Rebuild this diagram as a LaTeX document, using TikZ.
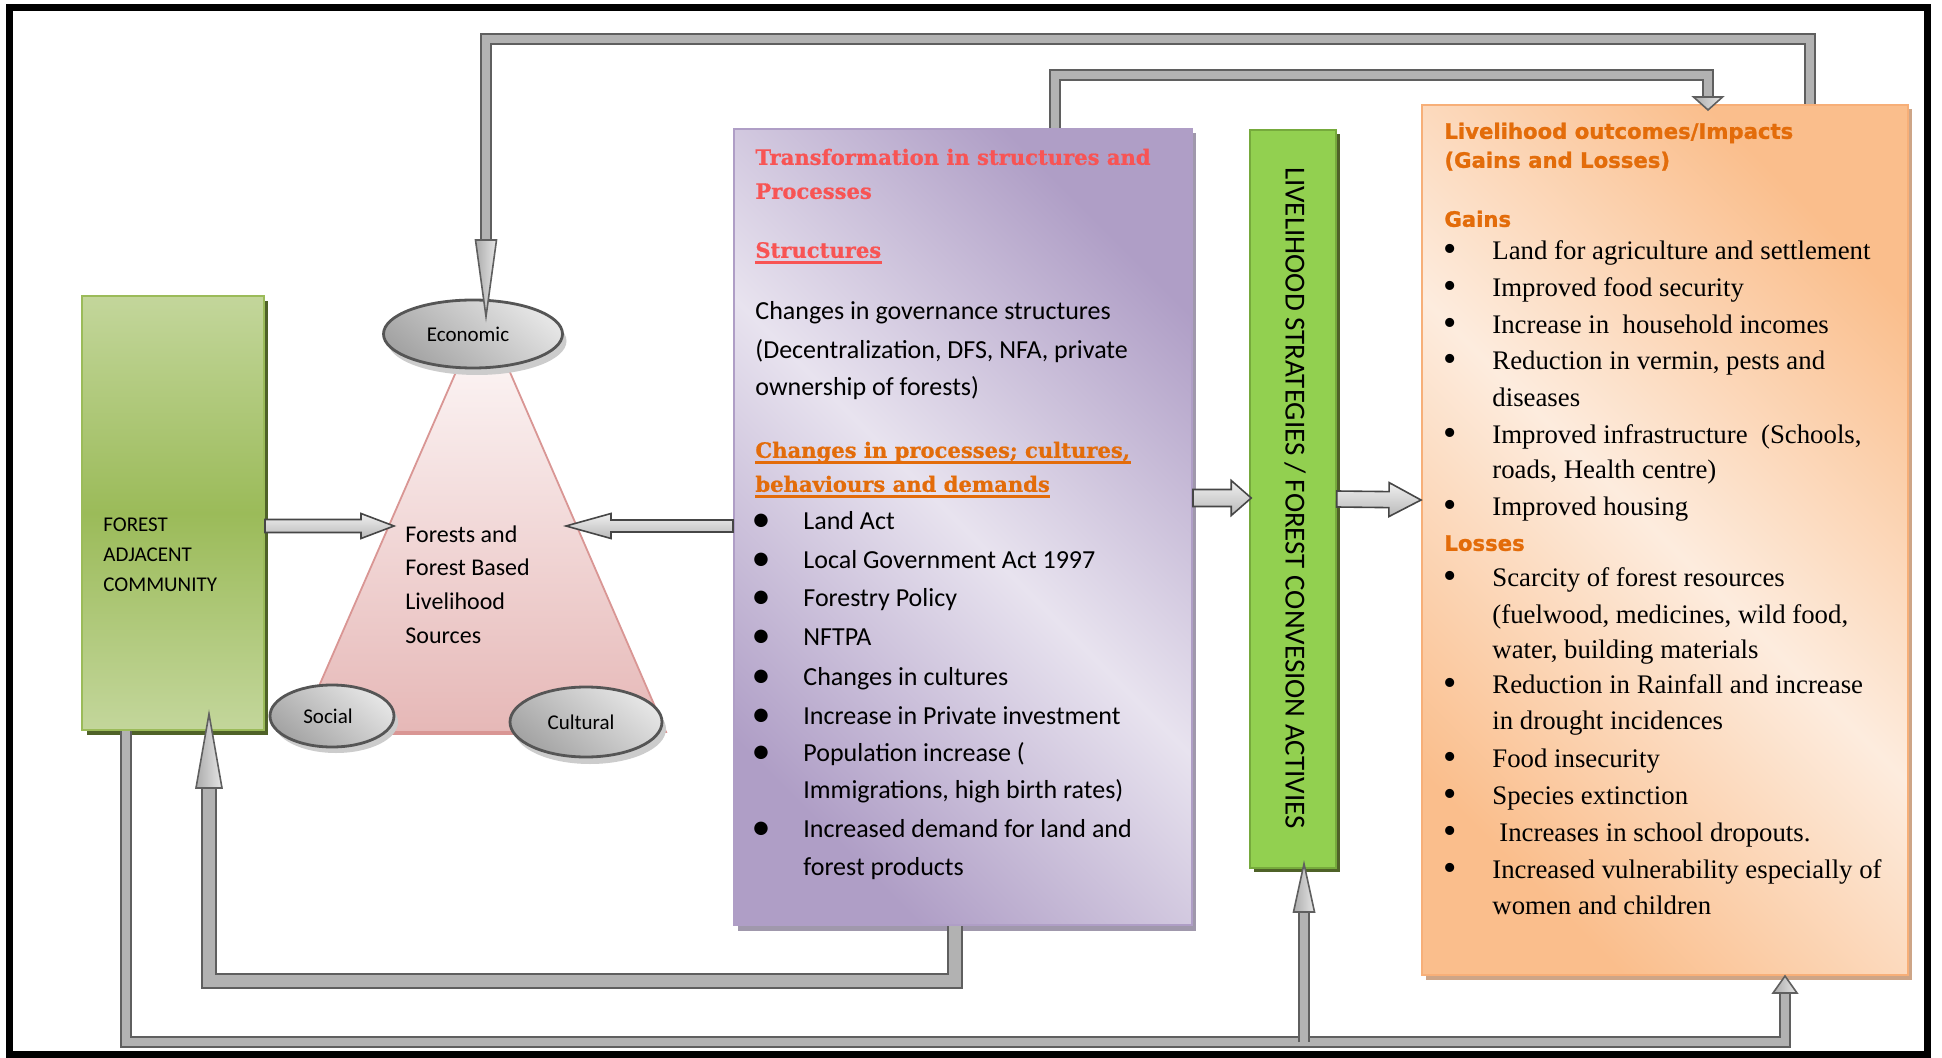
\documentclass[tikz,border=0pt]{standalone}
\usepackage{fontspec}
\setmainfont{Carlito}
\newfontfamily\TimesF{Liberation Serif}
\newfontfamily\HeadSans{DejaVu Sans}[BoldFont={DejaVu Sans Bold},BoldFeatures={FakeBold=1.2}]
\newfontfamily\BookF{DejaVu Serif}[BoldFont={DejaVu Serif Bold},BoldFeatures={FakeBold=0.8}]
\usetikzlibrary{calc,shapes.geometric}
\definecolor{titlered}{RGB}{248,84,84}
\definecolor{hdorange}{RGB}{227,108,10}
\definecolor{grnlight}{RGB}{195,214,155}
\definecolor{grnmid}{RGB}{155,187,89}
\definecolor{grndark}{RGB}{79,98,40}
\definecolor{grnbright}{RGB}{146,208,80}
\definecolor{grnedge}{RGB}{118,170,60}
\definecolor{purlight}{RGB}{232,227,239}
\definecolor{purdark}{RGB}{175,158,198}
\definecolor{purshadow}{RGB}{160,152,172}
\definecolor{orlight}{RGB}{253,236,222}
\definecolor{ordark}{RGB}{250,190,140}
\definecolor{oredge}{RGB}{247,175,120}
\definecolor{orshadow}{RGB}{205,165,135}
\definecolor{triedge}{RGB}{217,150,148}
\definecolor{tritop}{RGB}{254,251,251}
\definecolor{tribot}{RGB}{230,184,183}
\definecolor{pipeedge}{RGB}{95,95,95}
\definecolor{pipefill}{RGB}{178,178,178}
\definecolor{ellborder}{RGB}{85,85,85}

\newcommand\BlockArrow[5]{%
  \coordinate (ba-b) at ($(#2)!#5!(#1)$);
  \draw[blockarr] ($(#1)!#3!90:(#2)$) -- ($(ba-b)!#3!90:(#2)$) -- ($(ba-b)!#4!90:(#2)$) -- (#2)
     -- ($(ba-b)!#4!-90:(#2)$) -- ($(ba-b)!#3!-90:(#2)$) -- ($(#1)!#3!-90:(#2)$) -- cycle;}
\newcommand\PipeHead[3]{%
  \draw[headst] ($(#1)!#3!90:(#2)$) -- (#2) -- ($(#1)!#3!-90:(#2)$) -- cycle;}

\begin{document}
\begin{tikzpicture}[x=0.5pt,y=-0.5pt,
  txt/.style={inner sep=0pt,anchor=west,text height=0.68em,text depth=0pt},
  ptxt/.style={txt,font=\fontsize{13}{15}\selectfont},
  pbul/.style={inner sep=0pt,anchor=center,font=\fontsize{19}{20}\selectfont},
  phead/.style={txt,font=\BookF\bfseries\fontsize{10.55}{13}\selectfont},
  ohead/.style={txt,text=hdorange,font=\HeadSans\bfseries\fontsize{10.6}{13}\selectfont},
  otxt/.style={txt,font=\TimesF\fontsize{13.4}{15}\selectfont},
  obul/.style={inner sep=0pt,anchor=center,font=\TimesF\fontsize{19}{20}\selectfont},
  ltxt/.style={txt,font=\fontsize{10.5}{12}\selectfont},
  ttxt/.style={txt,font=\fontsize{12}{14}\selectfont},
  ellip/.style={ellipse,draw=ellborder,line width=1.4pt,top color=gray!20,bottom color=gray!72,
     shading angle=-40,inner sep=0pt,font=\fontsize{10.5}{12}\selectfont},
  ellsh/.style={ellipse,fill=gray!40,inner sep=0pt},
  blockarr/.style={draw=gray!55!black,line width=0.8pt,top color=gray!12,bottom color=gray!55},
  headst/.style={draw=pipeedge,line width=0.8pt,left color=gray!65,right color=gray!20},
  pipe/.style={draw=pipeedge,line width=1pt,double=pipefill,double distance=4pt,line join=miter},
  bigpipe/.style={draw=pipeedge,line width=1pt,double=pipefill,double distance=5.6pt,line join=miter}
]
\useasboundingbox (0,0) rectangle (1942,1058);
\fill[white] (0,0) rectangle (1942,1058);
\draw[line width=3.5pt] (9,8) rectangle (1927,1054);

% ---------- box shadows ----------
\fill[grndark] (87,301) rectangle (268,735);
\fill[purshadow] (738,133) rectangle (1196,931);
\fill[grndark] (1254,134) rectangle (1340,872);
\fill[orshadow] (1426,109) rectangle (1912,980);

% ---------- boxes ----------
\node[draw=grnmid,line width=1pt,top color=grnlight,bottom color=grnlight,middle color=grnmid,
      minimum width=91pt,minimum height=217pt,inner sep=0pt] (fac) at (173,513) {};
\node[draw=purdark,line width=1pt,top color=purdark,bottom color=purdark,middle color=purlight,
      shading angle=-45,minimum width=229pt,minimum height=398pt,inner sep=0pt] (pur) at (963,527) {};
\node[draw=grnedge,line width=0.8pt,fill=grnbright,
      minimum width=43pt,minimum height=369pt,inner sep=0pt] (lsbox) at (1293,499) {};
\node[draw=oredge,line width=1pt,top color=ordark,bottom color=ordark,middle color=orlight,
      shading angle=-45,minimum width=243pt,minimum height=435pt,inner sep=0pt] (orange) at (1665,540) {};

% ---------- triangle ----------
\path[draw=triedge,line width=0.9pt,top color=tritop,bottom color=tribot]
   (483,310) -- (666,732) -- (299,732) -- cycle;
\draw[triedge,line width=1.6pt] (330,733) -- (640,733);
\coordinate (triL) at (394,526);
\coordinate (triR) at (566,526);

% ---------- ellipses ----------
\node[ellsh,minimum width=89.5pt,minimum height=34pt] (econsh) at (477,341) {};
\node[ellsh,minimum width=62pt,minimum height=31pt] (socsh) at (336,722) {};
\node[ellsh,minimum width=76pt,minimum height=35pt] (culsh) at (590,729) {};
\node[ellip,minimum width=89.5pt,minimum height=34pt] (econ) at (473,334) {Economic\kern5pt};
\node[ellip,minimum width=62pt,minimum height=31pt] (soc) at (332,716) {Social\kern4pt};
\node[ellip,minimum width=76pt,minimum height=35pt] (cul) at (586,722) {Cultural\kern5pt};

% ---------- texts: left ----------
\node[ltxt] (fa1) at (103,525) {FOREST};
\node[ltxt] (fa2) at (103,555) {ADJACENT};
\node[ltxt] (fa3) at (103,585) {COMMUNITY};

\node[ttxt] (ft1) at (405,536) {Forests and};
\node[ttxt] (ft2) at (405,569) {Forest Based};
\node[ttxt] (ft3) at (405,603) {Livelihood};
\node[ttxt] (ft4) at (405,637) {Sources};

% ---------- texts: purple ----------
\node[phead,text=titlered] (ph1) at (755,158) {Transformation in structures and};
\node[phead,text=titlered] (ph2) at (755,192) {Processes};
\node[phead,text=titlered] (ph3) at (755,251) {Structures};
\draw[titlered,line width=1.3pt] ($(ph3.base west)+(0,5)$) -- ($(ph3.base east)+(0,5)$);
\node[ptxt] (pb1) at (755,313) {Changes in governance structures};
\node[ptxt] (pb2) at (755,352) {(Decentralization, DFS, NFA, private};
\node[ptxt] (pb3) at (755,389) {ownership of forests)};
\node[phead,text=hdorange] (ph4) at (755,451) {Changes in processes; cultures,};
\node[phead,text=hdorange] (ph5) at (755,485) {behaviours and demands};
\draw[hdorange,line width=1.3pt] ($(ph4.base west)+(0,5)$) -- ($(ph4.base east)+(0,5)$);
\draw[hdorange,line width=1.3pt] ($(ph5.base west)+(0,5)$) -- ($(ph5.base east)+(0,5)$);

\node[pbul] (pu1) at (761,523) {\textbullet};
\node[pbul] (pu2) at (761,562) {\textbullet};
\node[pbul] (pu3) at (761,600) {\textbullet};
\node[pbul] (pu4) at (761,639) {\textbullet};
\node[pbul] (pu5) at (761,679) {\textbullet};
\node[pbul] (pu6) at (761,718) {\textbullet};
\node[pbul] (pu7) at (761,755) {\textbullet};
\node[pbul] (pu8) at (761,831) {\textbullet};
\node[ptxt] (pl1) at (803,523) {Land Act};
\node[ptxt] (pl2) at (803,562) {Local Government Act 1997};
\node[ptxt] (pl3) at (803,600) {Forestry Policy};
\node[ptxt] (pl4) at (803,639) {NFTPA};
\node[ptxt] (pl5) at (803,679) {Changes in cultures};
\node[ptxt] (pl6) at (803,718) {Increase in Private investment};
\node[ptxt] (pl7) at (803,755) {Population increase (};
\node[ptxt] (pl7b) at (803,792) {Immigrations, high birth rates)};
\node[ptxt] (pl8) at (803,831) {Increased demand for land and};
\node[ptxt] (pl8b) at (803,869) {forest products};

% ---------- vertical text ----------
\node[rotate=-90,inner sep=0pt,font=\fontsize{14.5}{16}\selectfont] (lstxt) at (1295,498)
  {LIVELIHOOD STRATEGIES / FOREST CONVESION ACTIVIES};

% ---------- texts: orange ----------
\node[ohead] (oh1) at (1444,132) {Livelihood outcomes/Impacts};
\node[ohead] (oh2) at (1444,161) {(Gains and Losses)};
\node[ohead] (oh3) at (1444,220) {Gains};
\node[ohead] (oh4) at (1444,544) {Losses};

\node[obul] (ou1) at (1450,253) {\textbullet};
\node[obul] (ou2) at (1450,290) {\textbullet};
\node[obul] (ou3) at (1450,327) {\textbullet};
\node[obul] (ou4) at (1450,363) {\textbullet};
\node[obul] (ou5) at (1450,437) {\textbullet};
\node[obul] (ou6) at (1450,509) {\textbullet};
\node[obul] (ou7) at (1450,580) {\textbullet};
\node[obul] (ou8) at (1450,687) {\textbullet};
\node[obul] (ou9) at (1450,761) {\textbullet};
\node[obul] (ou10) at (1450,798) {\textbullet};
\node[obul] (ou11) at (1450,835) {\textbullet};
\node[obul] (ou12) at (1450,872) {\textbullet};

\node[otxt] (ol1) at (1492,253) {Land for agriculture and settlement};
\node[otxt] (ol2) at (1492,290) {Improved food security};
\node[otxt] (ol3) at (1492,327) {Increase in\ \ household incomes};
\node[otxt] (ol4) at (1492,363) {Reduction in vermin, pests and};
\node[otxt] (ol4b) at (1492,400) {diseases};
\node[otxt] (ol5) at (1492,437) {Improved infrastructure\ \ (Schools,};
\node[otxt] (ol5b) at (1492,472) {roads, Health centre)};
\node[otxt] (ol6) at (1492,509) {Improved housing};
\node[otxt] (ol7) at (1492,580) {Scarcity of forest resources};
\node[otxt] (ol7b) at (1492,617) {(fuelwood, medicines, wild food,};
\node[otxt] (ol7c) at (1492,652) {water, building materials};
\node[otxt] (ol8) at (1492,687) {Reduction in Rainfall and increase};
\node[otxt] (ol8b) at (1492,723) {in drought incidences};
\node[otxt] (ol9) at (1492,761) {Food insecurity};
\node[otxt] (ol10) at (1492,798) {Species extinction};
\node[otxt] (ol11) at (1499,835) {Increases in school dropouts.};
\node[otxt] (ol12) at (1492,872) {Increased vulnerability especially of};
\node[otxt] (ol12b) at (1492,908) {women and children};

% ---------- block arrows ----------
\coordinate (a1s) at ($(fac.east)+(0,13)$);
\BlockArrow{a1s}{triL}{3.25pt}{6.25pt}{16.5pt}
\coordinate (a2s) at ($(pur.west)+(0,-1)$);
\BlockArrow{a2s}{triR}{3pt}{6.25pt}{22.5pt}
\coordinate (a3s) at ($(pur.east)+(0,-29)$);
\coordinate (a3e) at ($(lsbox.west)+(2,-1)$);
\BlockArrow{a3s}{a3e}{4.25pt}{8.75pt}{10pt}
\coordinate (a4s) at (lsbox.east);
\coordinate (a4e) at ($(orange.west)+(0,-40)$);
\BlockArrow{a4s}{a4e}{4pt}{8.5pt}{16pt}

% ---------- pipes ----------
% orange -> economic
\coordinate (p1c1) at (1810,39);
\coordinate (p1c2) at (486,39);
\coordinate (p1h) at (486,240);
\coordinate (p1tip) at ($(econ.north)+(13,18)$);
\draw[pipe] (p1c1 |- orange.north) -- (p1c1) -- (p1c2) -- (p1h);
\PipeHead{p1h}{p1tip}{5.25pt}
% purple -> orange (top)
\coordinate (p2c1) at (1055,75);
\coordinate (p2c2) at (1708,75);
\coordinate (p2h) at (1708,97);
\coordinate (p2tip) at ($(orange.north -| p2c2)+(0,6)$);
\draw[pipe] (p2c1 |- pur.north) -- (p2c1) -- (p2c2) -- (p2h);
\PipeHead{p2h}{p2tip}{7.25pt}
% purple -> forest adjacent community
\coordinate (p3c1) at (955,981);
\coordinate (p3c2) at (209,981);
\coordinate (p3h) at (209,788);
\coordinate (p3tip) at ($(fac.south -| p3c2)+(0,-17)$);
\draw[bigpipe] (p3c1 |- pur.south) -- (p3c1) -- (p3c2) -- (p3h);
\PipeHead{p3h}{p3tip}{6.5pt}
% forest adjacent community -> orange (bottom) and -> livelihood strategies
\coordinate (p4c1) at (126,1042);
\coordinate (p4c2) at (1785,1042);
\coordinate (p4h) at (1785,993);
\coordinate (p4tip) at (orange.south -| p4c2);
\draw[pipe] (p4c1 |- fac.south) -- (p4c1) -- (p4c2) -- (p4h);
\PipeHead{p4h}{p4tip}{6pt}
\coordinate (p5c) at (1304,1042);
\coordinate (p5h) at (1304,912);
\coordinate (p5tip) at ($(lsbox.south -| p5c)+(0,-5)$);
\draw[pipe] (p5c) -- (p5h);
\PipeHead{p5h}{p5tip}{5.25pt}
\end{tikzpicture}
\end{document}
